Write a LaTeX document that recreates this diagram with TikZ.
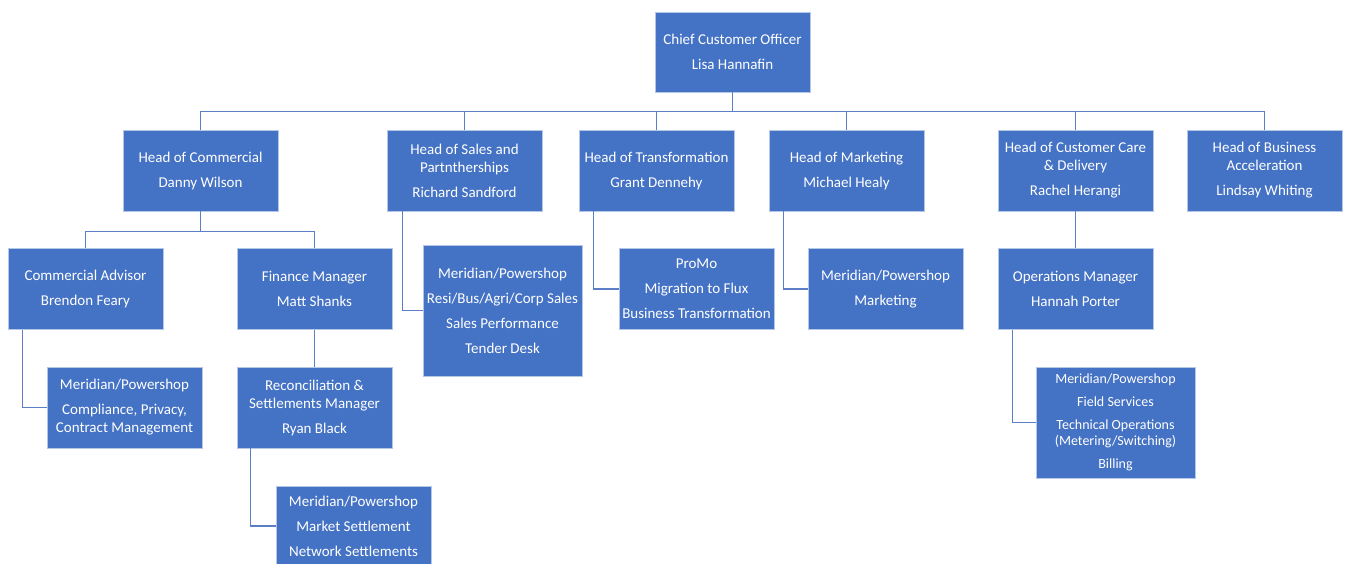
\documentclass[tikz,border=0pt]{standalone}
\usepackage{fontspec}
\setmainfont{Carlito}
\usepackage{xcolor}
\definecolor{boxblue}{HTML}{4472C4}
\definecolor{boxedge}{HTML}{B4C7E7}
\definecolor{linkblue}{HTML}{5B7EC6}

\begin{document}
\begin{tikzpicture}[x=1pt,y=-1pt,
  box/.style={fill=boxblue, draw=boxedge, line width=0.8pt, text=white,
    align=center, inner sep=0pt, minimum width=155pt, minimum height=81pt,
    font=\fontsize{15}{18}\selectfont},
  smallbox/.style={box, font=\fontsize{14}{16}\selectfont},
  link/.style={linkblue, line width=1.3pt}]

\useasboundingbox (0,0) rectangle (1347,563);

% nodes
{
\node[box, minimum height=80pt] (cco) at (732.5,52)
{Chief Customer Officer\\[7pt]Lisa Hannafin};

\node[box] (hcom) at (200.5,170.5) {Head of Commercial\\[7pt]Danny Wilson};
\node[box] (hsal) at (464.5,170.5) {Head of Sales and\\Partntherships\\[7pt]Richard Sandford};
\node[box] (htra) at (656.5,170.5) {Head of Transformation\\[7pt]Grant Dennehy};
\node[box] (hmkt) at (846.5,170.5) {Head of Marketing\\[7pt]Michael Healy};
\node[box] (hcc) at (1075.5,170.5) {Head of Customer Care\\\& Delivery\\[7pt]Rachel Herangi};
\node[box] (hba) at (1264.5,170.5) {Head of Business\\Acceleration\\[7pt]Lindsay Whiting};

\node[box] (cadv) at (85.5,289) {Commercial Advisor\\[7pt]Brendon Feary};
\node[box] (fin) at (314.5,289) {Finance Manager\\[7pt]Matt Shanks};
\node[box] (comp) at (124.5,407.5)
{Meridian/Powershop\\[7pt]Compliance, Privacy,\\Contract Management};
\node[box] (rec) at (314.5,407.5)
{Reconciliation \&\\Settlements Manager\\[7pt]Ryan Black};
\node[box, minimum height=80pt] (mset) at (353.5,526)
{Meridian/Powershop\\[7pt]Market Settlement\\[7pt]Network Settlements};

\node[box, minimum width=159pt, minimum height=131pt] (resi) at (502.5,310.5)
{Meridian/Powershop\\[7pt]Resi/Bus/Agri/Corp Sales\\[7pt]Sales Performance\\[7pt]Tender Desk};
\node[box] (promo) at (696.5,289)
{ProMo\\[7pt]Migration to Flux\\[7pt]Business Transformation};
\node[box] (mkt) at (885.5,289) {Meridian/Powershop\\[7pt]Marketing};
\node[box] (ops) at (1075.5,289) {Operations Manager\\[7pt]Hannah Porter};
\node[smallbox, minimum width=159pt, minimum height=111pt] (field) at (1115.5,422.5)
{Meridian/Powershop\\[7pt]Field Services\\[7pt]Technical Operations\\(Metering/Switching)\\[7pt]Billing};
}

% lines
{
\draw[link] (cco.south) -- ++(0,19) coordinate (bus);
\foreach \n in {hcom,hsal,htra,hmkt,hcc,hba}
  \draw[link] (bus) -| (\n.north);

\draw[link] (hcom.south) -- ++(0,20) coordinate (cbus);
\draw[link] (cbus) -| (cadv.north);
\draw[link] (cbus) -| (fin.north);

\draw[link] ([xshift=15pt]cadv.south west) |- (comp.west);
\draw[link] (fin.south) -- (rec.north);
\draw[link] ([xshift=14pt]rec.south west) |- (mset.west);

\draw[link] ([xshift=16pt]hsal.south west) |- (resi.west);
\draw[link] ([xshift=15pt]htra.south west) |- (promo.west);
\draw[link] ([xshift=15pt]hmkt.south west) |- (mkt.west);
\draw[link] (hcc.south) -- (ops.north);
\draw[link] ([xshift=15pt]ops.south west) |- (field.west);
}

\end{tikzpicture}
\end{document}
